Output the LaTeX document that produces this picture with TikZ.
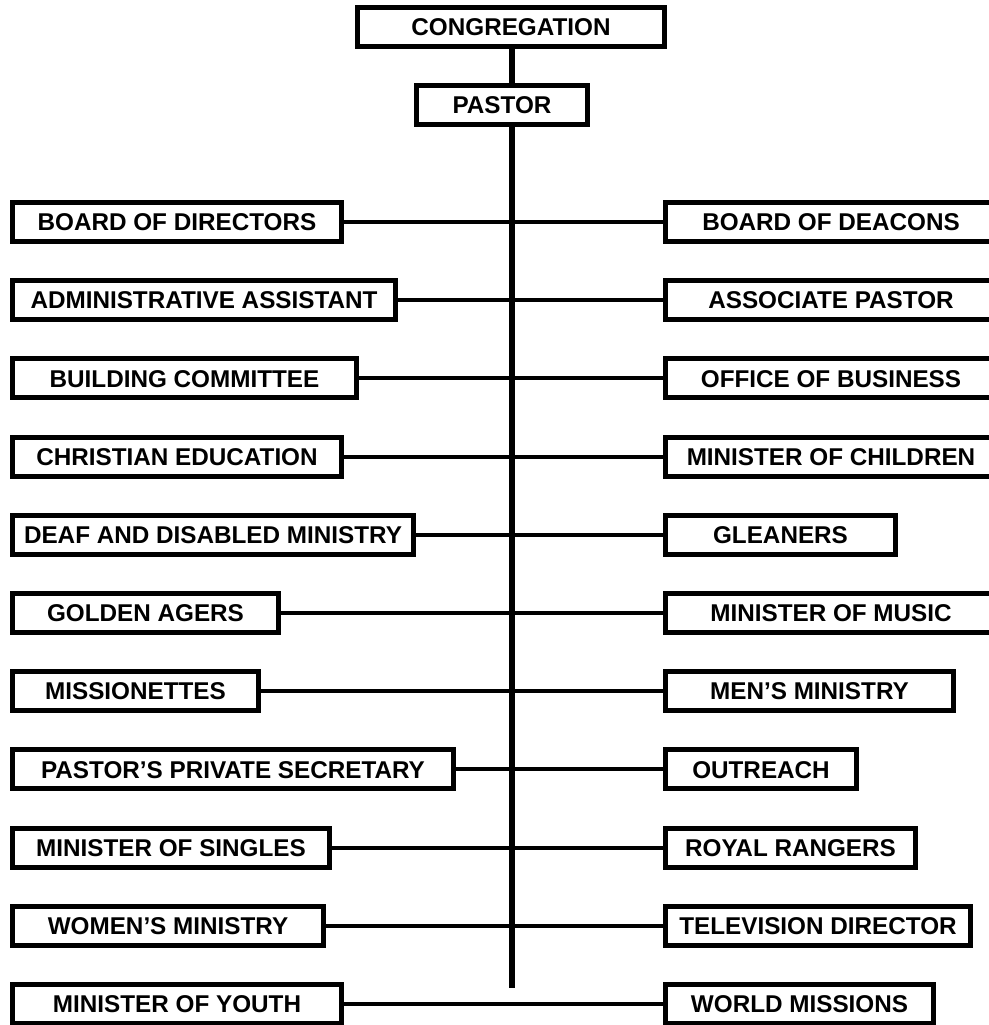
\documentclass[tikz,border=0pt]{standalone}
\usepackage{fontspec}
\setmainfont{Liberation Sans}
\begin{document}
\begin{tikzpicture}[x=0.75pt,y=-0.75pt,
  orgbox/.style={draw=black, fill=white, line width=3.75pt, inner sep=0pt,
    minimum height=29.25pt, text height=13pt, text depth=0pt,
    font=\fontsize{18.2pt}{20pt}\selectfont\bfseries},
  spine/.style={line width=3.9pt},
  link/.style={line width=3pt}]
\useasboundingbox (0,0) rectangle (989,1025);
\clip (0,0) rectangle (989,1025);
% left column box: name, row y, outer right edge, label
\newcommand\leftunit[4]{\node[orgbox, anchor=west, minimum width={(#3-15)*0.75pt}] (#1) at (10,#2) {#4};}
% right column box: name, row y, outer right edge, label
\newcommand\rightunit[4]{\node[orgbox, anchor=west, minimum width={(#3-668)*0.75pt}] (#1) at (663,#2) {#4};}

\coordinate (spineend) at (512,988);

% head of the chart
\node[orgbox, minimum width=230.25pt] (cong) at (511,27) {CONGREGATION};
\node[orgbox, minimum width=128.25pt] (pastor) at (502,105) {PASTOR};

\draw[spine] (cong.south -| spineend) -- (pastor.north -| spineend);
\draw[spine] (pastor.south -| spineend) -- (spineend);

% left column
\leftunit{l1}{222.0}{344}{BOARD OF DIRECTORS}
\leftunit{l2}{300.2}{398}{ADMINISTRATIVE ASSISTANT}
\leftunit{l3}{378.4}{359}{BUILDING COMMITTEE}
\leftunit{l4}{456.6}{344}{CHRISTIAN EDUCATION}
\leftunit{l5}{534.8}{416}{DEAF AND DISABLED MINISTRY}
\leftunit{l6}{613.0}{281}{GOLDEN AGERS}
\leftunit{l7}{691.2}{261}{MISSIONETTES}
\leftunit{l8}{769.4}{456}{PASTOR’S PRIVATE SECRETARY}
\leftunit{l9}{847.6}{332}{MINISTER OF SINGLES}
\leftunit{l10}{925.8}{326}{WOMEN’S MINISTRY}
\leftunit{l11}{1004.0}{344}{MINISTER OF YOUTH}

% right column
\rightunit{r1}{222.0}{999}{BOARD OF DEACONS}
\rightunit{r2}{300.2}{999}{ASSOCIATE PASTOR}
\rightunit{r3}{378.4}{999}{OFFICE OF BUSINESS}
\rightunit{r4}{456.6}{999}{MINISTER OF CHILDREN}
\rightunit{r5}{534.8}{898}{GLEANERS}
\rightunit{r6}{613.0}{999}{MINISTER OF MUSIC}
\rightunit{r7}{691.2}{956}{MEN’S MINISTRY}
\rightunit{r8}{769.4}{859}{OUTREACH}
\rightunit{r9}{847.6}{918}{ROYAL RANGERS}
\rightunit{r10}{925.8}{973}{TELEVISION DIRECTOR}
\rightunit{r11}{1004.0}{936}{WORLD MISSIONS}

% cross links
\foreach \k in {1,...,11} {
  \draw[link] (l\k.east) -- (r\k.west);
}
\end{tikzpicture}
\end{document}
